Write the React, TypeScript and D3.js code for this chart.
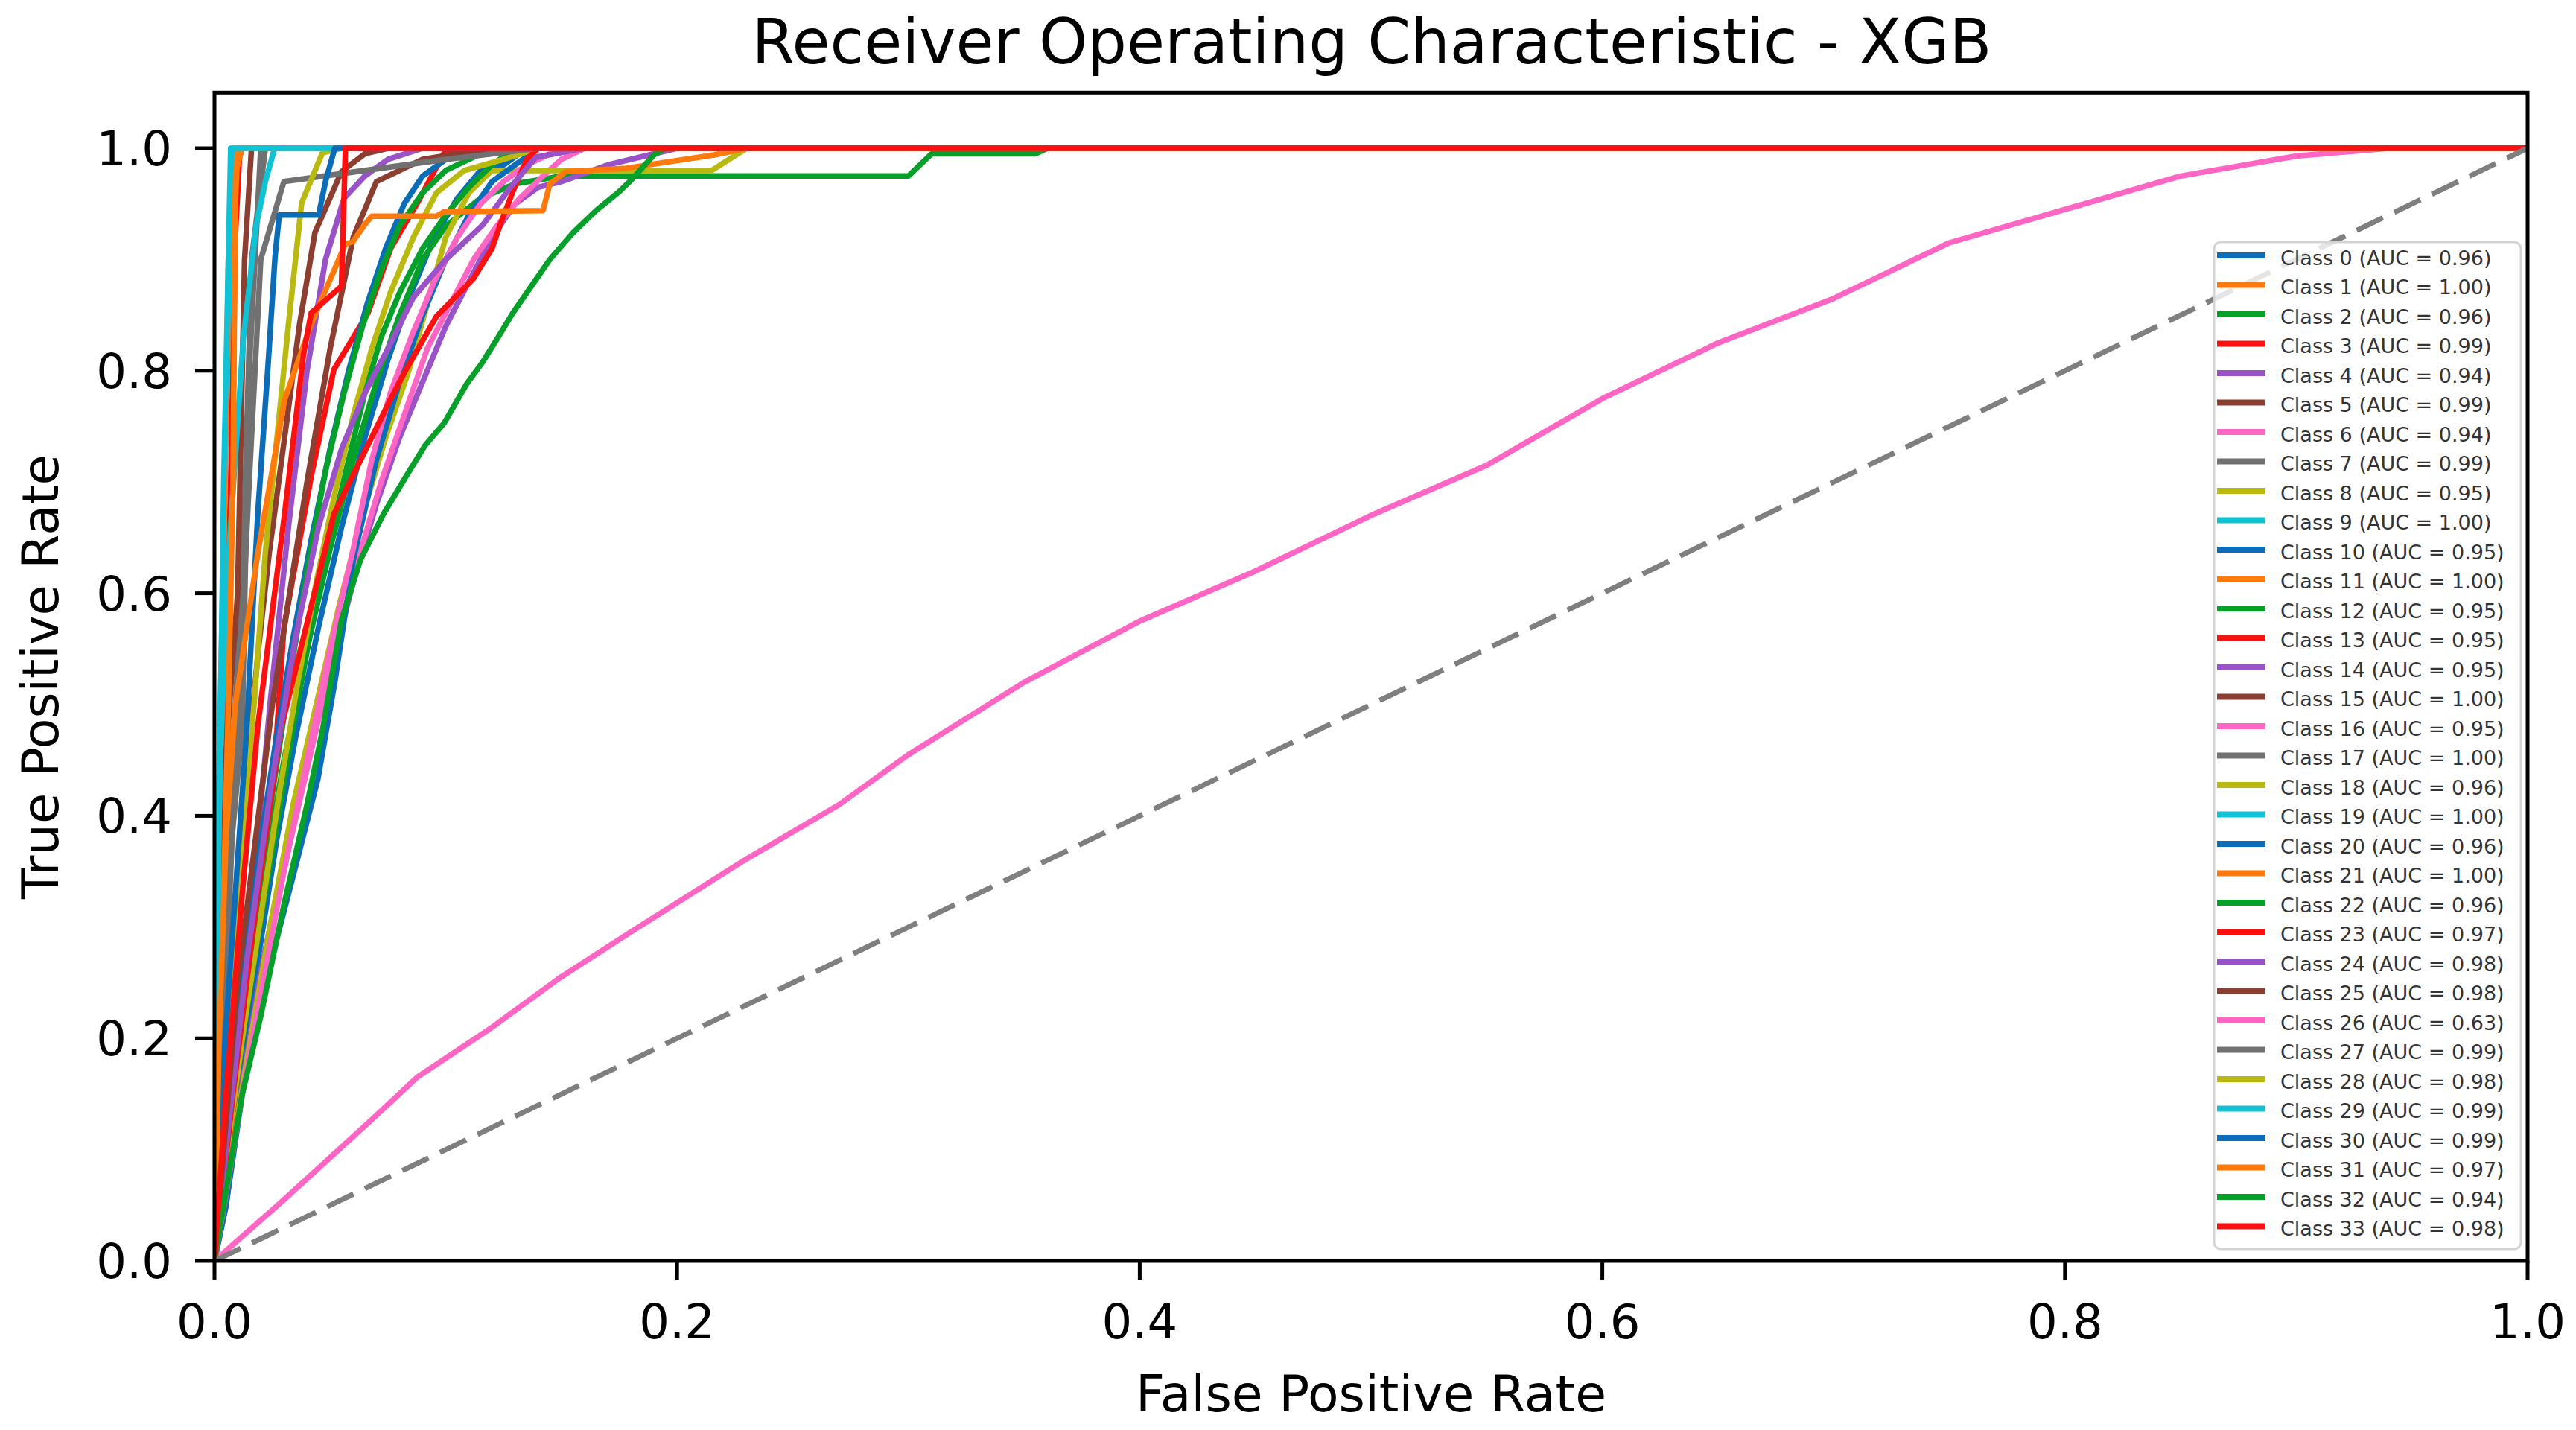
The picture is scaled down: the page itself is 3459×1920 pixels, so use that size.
import React, { useEffect } from 'react';
import * as d3 from 'd3';

const W = 3459;
const H = 1920;

const titleText = 'Receiver Operating Characteristic - XGB';
const xLabelText = 'False Positive Rate';
const yLabelText = 'True Positive Rate';
const xTicks = [0, 0.2, 0.4, 0.6, 0.8, 1.0];
const yTicks = [0, 0.2, 0.4, 0.6, 0.8, 1.0];

const aucValues = [0.96, 1.0, 0.96, 0.99, 0.94, 0.99, 0.94, 0.99, 0.95, 1.0, 0.95, 1.0, 0.95, 0.95, 0.95, 1.0, 0.95, 1.0, 0.96, 1.0, 0.96, 1.0, 0.96, 0.97, 0.98, 0.98, 0.63, 0.99, 0.98, 0.99, 0.99, 0.97, 0.94, 0.98];
const classLabels = aucValues.map((_, i) => `Class ${i}`);
const palette = ['#0b6cb8', '#ff7a0a', '#05a02a', '#ff1010', '#9a52c8', '#8c3e30', '#ff66c4', '#717171', '#b9b910', '#10c2d6'];

type P = [number, number];
const c0: P[] = [[0, 0], [0.004, 0.06], [0.01, 0.15], [0.018, 0.26], [0.027, 0.38], [0.035, 0.47], [0.045, 0.57], [0.055, 0.66], [0.065, 0.74], [0.075, 0.81], [0.085, 0.87], [0.095, 0.92], [0.105, 0.955], [0.115, 0.98], [0.125, 0.985], [0.135, 1]];
const c1: P[] = [[0, 0], [0.002, 0.3], [0.006, 0.48], [0.008, 0.75], [0.009, 0.95], [0.0105, 1]];
const c2: P[] = [[0, 0], [0.005, 0.1], [0.012, 0.22], [0.02, 0.33], [0.03, 0.45], [0.04, 0.55], [0.05, 0.64], [0.06, 0.72], [0.07, 0.79], [0.08, 0.85], [0.09, 0.9], [0.1, 0.93], [0.115, 0.955], [0.13, 0.968], [0.15, 0.975], [0.3, 0.975], [0.31, 0.995], [0.355, 0.995], [0.36, 1]];
const c3: P[] = [[0, 0], [0.001, 0.2], [0.004, 0.45], [0.007, 0.7], [0.009, 0.92], [0.011, 1]];
const c4: P[] = [[0, 0], [0.005, 0.05], [0.012, 0.16], [0.02, 0.26], [0.03, 0.36], [0.04, 0.45], [0.05, 0.53], [0.06, 0.61], [0.07, 0.68], [0.08, 0.74], [0.09, 0.79], [0.1, 0.84], [0.11, 0.88], [0.12, 0.92], [0.13, 0.95], [0.14, 0.965], [0.15, 0.97], [0.17, 0.985], [0.2, 1]];
const c5: P[] = [[0, 0], [0.005, 0.2], [0.012, 0.4], [0.019, 0.55], [0.0237, 0.637], [0.0303, 0.74], [0.0368, 0.842], [0.0434, 0.924], [0.0549, 0.979], [0.065, 0.995], [0.075, 1]];
const c6: P[] = [[0, 0], [0.006, 0.07], [0.014, 0.18], [0.022, 0.27], [0.032, 0.37], [0.042, 0.46], [0.052, 0.55], [0.062, 0.63], [0.072, 0.7], [0.082, 0.76], [0.092, 0.82], [0.102, 0.86], [0.112, 0.9], [0.122, 0.93], [0.132, 0.955], [0.142, 0.975], [0.15, 0.99], [0.16, 1]];
const c7: P[] = [[0, 0], [0.006, 0.4], [0.012, 0.6], [0.016, 0.9], [0.022, 1]];
const c8: P[] = [[0, 0], [0.006, 0.08], [0.014, 0.18], [0.024, 0.3], [0.034, 0.41], [0.044, 0.5], [0.054, 0.59], [0.064, 0.67], [0.074, 0.74], [0.084, 0.8], [0.092, 0.86], [0.1, 0.92], [0.11, 0.96], [0.12, 0.98], [0.215, 0.98], [0.23, 1]];
const c9: P[] = [[0, 0], [0.001, 0.3], [0.0023, 0.48], [0.005, 0.75], [0.008, 1]];
const c10: P[] = [[0, 0], [0.005, 0.05], [0.012, 0.15], [0.022, 0.25], [0.032, 0.33], [0.0447, 0.433], [0.052, 0.52], [0.06, 0.63], [0.07, 0.72], [0.08, 0.79], [0.09, 0.85], [0.1, 0.9], [0.11, 0.94], [0.12, 0.97], [0.13, 0.985], [0.14, 1]];
const c11: P[] = [[0, 0], [0.003, 0.5], [0.006, 0.9], [0.008, 0.97], [0.012, 1]];
const c12: P[] = [[0, 0], [0.004, 0.07], [0.01, 0.17], [0.018, 0.28], [0.026, 0.38], [0.034, 0.48], [0.042, 0.57], [0.05, 0.65], [0.058, 0.72], [0.065, 0.78], [0.072, 0.83], [0.08, 0.87], [0.09, 0.91], [0.1, 0.94], [0.11, 0.965], [0.12, 0.985], [0.13, 1]];
const c13: P[] = [[0, 0], [0.01, 0.17], [0.02, 0.35], [0.027, 0.477], [0.03, 0.569], [0.0418, 0.705], [0.0516, 0.801], [0.0664, 0.852], [0.0762, 0.91], [0.0878, 0.951], [0.0993, 0.996], [0.105, 1]];
const c14: P[] = [[0, 0], [0.008, 0.15], [0.016, 0.32], [0.024, 0.5], [0.032, 0.66], [0.04, 0.8], [0.048, 0.9], [0.056, 0.955], [0.065, 0.975], [0.075, 0.99], [0.09, 1]];
const c15: P[] = [[0, 0], [0.003, 0.4], [0.01, 0.6], [0.013, 0.9], [0.016, 1]];
const c16: P[] = [[0, 0], [0.005, 0.06], [0.012, 0.15], [0.02, 0.24], [0.03, 0.35], [0.04, 0.45], [0.05, 0.55], [0.06, 0.64], [0.068, 0.72], [0.076, 0.78], [0.085, 0.83], [0.095, 0.88], [0.105, 0.92], [0.115, 0.95], [0.125, 0.97], [0.135, 0.985], [0.15, 1]];
const c17: P[] = [[0, 0], [0.004, 0.3], [0.012, 0.48], [0.015, 0.8], [0.02, 1]];
const c18: P[] = [[0, 0], [0.005, 0.09], [0.012, 0.2], [0.02, 0.31], [0.028, 0.42], [0.036, 0.52], [0.044, 0.61], [0.052, 0.69], [0.06, 0.76], [0.068, 0.82], [0.076, 0.87], [0.086, 0.92], [0.096, 0.96], [0.108, 0.98], [0.125, 0.99], [0.14, 1]];
const c19: P[] = [[0, 0], [0.001, 0.3], [0.0025, 0.45], [0.006, 0.63], [0.0125, 0.83], [0.018, 0.93], [0.022, 0.97], [0.026, 1]];
const c20: P[] = [[0, 0], [0.004, 0.1], [0.01, 0.22], [0.018, 0.35], [0.026, 0.46], [0.034, 0.56], [0.042, 0.65], [0.05, 0.73], [0.058, 0.8], [0.066, 0.86], [0.074, 0.91], [0.082, 0.95], [0.09, 0.975], [0.1, 0.99], [0.11, 1]];
const c21: P[] = [[0, 0], [0.003, 0.25], [0.006, 0.5], [0.008, 0.7], [0.009, 0.95], [0.01, 1]];
const c22: P[] = [[0, 0], [0.004, 0.08], [0.01, 0.19], [0.017, 0.3], [0.025, 0.42], [0.033, 0.53], [0.04, 0.62], [0.048, 0.71], [0.056, 0.78], [0.064, 0.84], [0.072, 0.89], [0.08, 0.93], [0.09, 0.96], [0.1, 0.98], [0.11, 0.99], [0.12, 1]];
const c23: P[] = [[0, 0], [0.008, 0.15], [0.018, 0.32], [0.0286, 0.477], [0.0516, 0.671], [0.076, 0.774], [0.0828, 0.801], [0.096, 0.849], [0.112, 0.883], [0.12, 0.91], [0.124, 0.934], [0.129, 0.961], [0.135, 0.99], [0.14, 1]];
const c24: P[] = [[0, 0], [0.006, 0.12], [0.014, 0.27], [0.024, 0.42], [0.035, 0.56], [0.045, 0.66], [0.055, 0.73], [0.065, 0.78], [0.075, 0.82], [0.086, 0.866], [0.1, 0.9], [0.116, 0.931], [0.128, 0.965], [0.139, 0.992], [0.16, 1]];
const c25: P[] = [[0, 0], [0.01, 0.25], [0.025, 0.5], [0.04, 0.7], [0.05, 0.82], [0.06, 0.92], [0.07, 0.97], [0.09, 0.99], [0.12, 1]];
const c26: P[] = [[0, 0], [0.03, 0.055], [0.068, 0.127], [0.0876, 0.165], [0.12, 0.21], [0.149, 0.254], [0.181, 0.297], [0.229, 0.36], [0.27, 0.41], [0.3, 0.455], [0.35, 0.52], [0.4, 0.575], [0.45, 0.62], [0.5, 0.67], [0.55, 0.715], [0.6, 0.775], [0.65, 0.825], [0.7, 0.865], [0.75, 0.915], [0.8, 0.945], [0.85, 0.975], [0.9, 0.993], [0.94, 1]];
const c27: P[] = [[0, 0], [0.008, 0.4], [0.015, 0.7], [0.02, 0.9], [0.03, 0.97], [0.1, 0.99], [0.14, 1]];
const c28: P[] = [[0, 0], [0.006, 0.2], [0.012, 0.38], [0.0171, 0.5], [0.022, 0.637], [0.032, 0.842], [0.0377, 0.951], [0.0467, 0.996], [0.055, 1]];
const c29: P[] = [[0, 0], [0.002, 0.4], [0.004, 0.7], [0.006, 0.9], [0.007, 1]];
const c30: P[] = [[0, 0], [0.003, 0.15], [0.008, 0.3], [0.0139, 0.477], [0.0187, 0.671], [0.023, 0.8], [0.0262, 0.903], [0.028, 0.94], [0.045, 0.94], [0.048, 0.97], [0.052, 1]];
const c31: P[] = [[0, 0], [0.002, 0.2], [0.005, 0.38], [0.009, 0.5], [0.0188, 0.637], [0.0303, 0.774], [0.0418, 0.842], [0.0467, 0.866], [0.0566, 0.914], [0.0599, 0.916], [0.0648, 0.931], [0.068, 0.939], [0.096, 0.939], [0.0993, 0.943], [0.142, 0.944], [0.145, 0.968], [0.152, 0.979], [0.178, 0.982], [0.216, 0.994], [0.23, 1]];
const c32: P[] = [[0, 0], [0.004, 0.05], [0.012, 0.15], [0.02, 0.22], [0.03, 0.32], [0.04, 0.41], [0.0467, 0.477], [0.0549, 0.576], [0.0631, 0.63], [0.073, 0.671], [0.0828, 0.705], [0.0911, 0.733], [0.0993, 0.753], [0.109, 0.788], [0.116, 0.808], [0.122, 0.828], [0.129, 0.852], [0.137, 0.876], [0.145, 0.9], [0.155, 0.924], [0.165, 0.944], [0.175, 0.961], [0.18, 0.971], [0.19, 0.994], [0.195, 1]];
const c33: P[] = [[0, 0], [0.005, 0.15], [0.012, 0.33], [0.0187, 0.48], [0.0303, 0.671], [0.0385, 0.815], [0.0418, 0.852], [0.0549, 0.876], [0.0566, 1]];

const rocCurves: P[][] = [c0, c1, c2, c3, c4, c5, c6, c7, c8, c9, c10, c11, c12, c13, c14, c15, c16, c17, c18, c19, c20, c21, c22, c23, c24, c25, c26, c27, c28, c29, c30, c31, c32, c33];
const diagonal: P[] = [[0, 0], [1, 1]];

const FONT = "'DejaVu Sans', sans-serif";

export default function App() {
  useEffect(() => {
    document.body.style.margin = '0';
  }, []);

  const x = d3.scaleLinear().domain([0, 1]).range([288, 3394]);
  const y = d3.scaleLinear().domain([0, 1.05]).range([1693, 124.3]);
  const line = d3.line<P>().x(d => x(d[0])).y(d => y(d[1]));
  const fmt = d3.format('.1f');

  const legendX = 2973;
  const legendY = 325;
  const legendW = 412;
  const legendH = 1352;
  const rowH = 39.5;
  const firstRow = 346;

  return (
    <svg width={W} height={H} viewBox={`0 0 ${W} ${H}`} style={{ display: 'block', background: '#fff' }} fontFamily={FONT}>
      <defs>
        <clipPath id="plotClip">
          <rect x={x(0)} y={y(1.05)} width={x(1) - x(0)} height={y(0) - y(1.05)} />
        </clipPath>
      </defs>
      <rect x={0} y={0} width={W} height={H} fill="#fff" />
      <g clipPath="url(#plotClip)">
        {rocCurves.map((pts, i) => {
          const full = pts[pts.length - 1][0] < 1 ? [...pts, [1, 1] as P] : pts;
          return (
            <path key={i} d={line(full) || ''} fill="none" stroke={palette[i % 10]} strokeWidth={7.5} strokeLinejoin="round" strokeLinecap="butt" />
          );
        })}
        <path d={line(diagonal) || ''} fill="none" stroke="#7f7f7f" strokeWidth={7} strokeDasharray="39 17" />
      </g>
      <rect x={x(0)} y={y(1.05)} width={x(1) - x(0)} height={y(0) - y(1.05)} fill="none" stroke="#000" strokeWidth={5} />
      {xTicks.map(t => (
        <g key={`xt${t}`}>
          <line x1={x(t)} x2={x(t)} y1={y(0)} y2={y(0) + 26} stroke="#000" strokeWidth={5} />
          <text x={x(t)} y={1797} fontSize={64} textAnchor="middle" fill="#000">{fmt(t)}</text>
        </g>
      ))}
      {yTicks.map(t => (
        <g key={`yt${t}`}>
          <line x1={x(0) - 26} x2={x(0)} y1={y(t)} y2={y(t)} stroke="#000" strokeWidth={5} />
          <text x={231} y={y(t)} dy="0.36em" fontSize={64} textAnchor="end" fill="#000">{fmt(t)}</text>
        </g>
      ))}
      <text x={1842} y={85} fontSize={83} textAnchor="middle" fill="#000">{titleText}</text>
      <text x={1841} y={1895} fontSize={68} textAnchor="middle" fill="#000">{xLabelText}</text>
      <text transform={`translate(78, ${(y(0) + y(1.05)) / 2}) rotate(-90)`} fontSize={67} textAnchor="middle" fill="#000">{yLabelText}</text>
      <rect x={legendX} y={legendY} width={legendW} height={legendH} rx={9} ry={9} fill="#fff" fillOpacity={0.8} stroke="#d4d4d4" strokeWidth={3} />
      {classLabels.map((lab, i) => {
        const cy = firstRow + i * rowH;
        return (
          <g key={`lg${i}`}>
            <line x1={2977} x2={3042} y1={cy - 3} y2={cy - 3} stroke={palette[i % 10]} strokeWidth={8} />
            <text x={3062} y={cy} dy="0.36em" fontSize={27} fill="#333">{`${lab} (AUC = ${aucValues[i].toFixed(2)})`}</text>
          </g>
        );
      })}
    </svg>
  );
}
